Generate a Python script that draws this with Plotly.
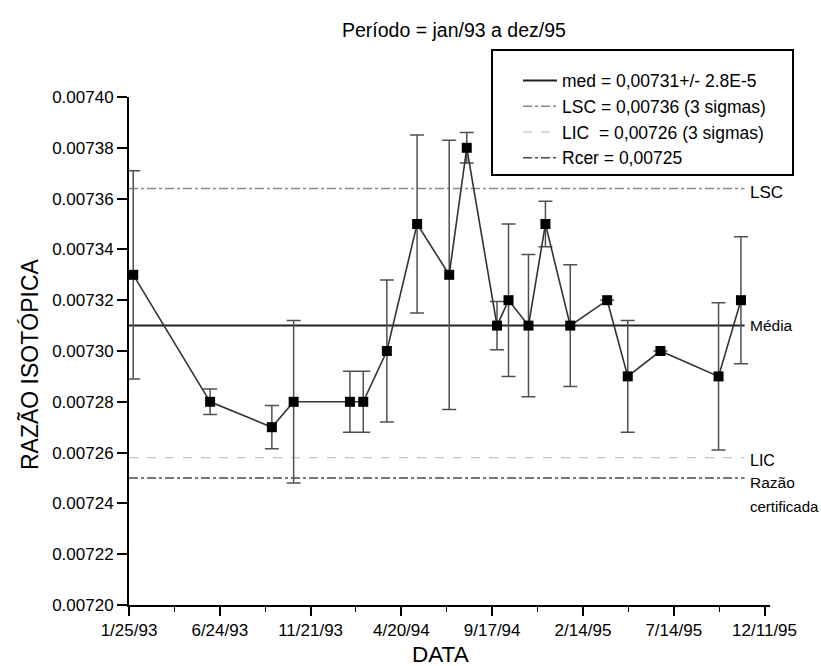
import plotly.graph_objects as go

# ---- data ----
dates = ["1993-02-01", "1993-06-08", "1993-09-18", "1993-10-24", "1994-01-25",
         "1994-02-16", "1994-03-27", "1994-05-16", "1994-07-08", "1994-08-06",
         "1994-09-25", "1994-10-14", "1994-11-16", "1994-12-14", "1995-01-24",
         "1995-03-26", "1995-04-29", "1995-06-22", "1995-09-26", "1995-11-02"]
ratios = [0.00733, 0.00728, 0.00727, 0.00728, 0.00728,
          0.00728, 0.00730, 0.00735, 0.00733, 0.00738,
          0.00731, 0.00732, 0.00731, 0.00735, 0.00731,
          0.00732, 0.00729, 0.00730, 0.00729, 0.00732]
errors = [0.000041, 0.000005, 0.0000085, 0.000032, 0.000012,
          0.000012, 0.000028, 0.000035, 0.000053, 0.000006,
          0.0000095, 0.00003, 0.000028, 0.000009, 0.000024,
          0.0, 0.000022, 0.0, 0.000029, 0.000025]

line_start = "1993-01-25"
line_end = "1995-11-08"
mean_val = 0.00731
lsc_val = 0.007364
lic_val = 0.007258
rcer_val = 0.00725

ref_names = ["med = 0,00731+/- 2.8E-5", "LSC = 0,00736 (3 sigmas)",
             "LIC  = 0,00726 (3 sigmas)", "Rcer = 0,00725"]

tick_vals = ["1993-01-25", "1993-06-24", "1993-11-21", "1994-04-20",
             "1994-09-17", "1995-02-14", "1995-07-14", "1995-12-11"]
tick_text = ["1/25/93", "6/24/93", "11/21/93", "4/20/94",
             "9/17/94", "2/14/95", "7/14/95", "12/11/95"]
minor_vals = ["1993-04-10", "1993-09-07", "1994-02-04", "1994-07-04",
              "1994-12-01", "1995-04-30", "1995-09-27"]
y_ticks = [0.00720, 0.00722, 0.00724, 0.00726, 0.00728, 0.00730,
           0.00732, 0.00734, 0.00736, 0.00738, 0.00740]

FONT = "Liberation Sans, Arial, sans-serif"

W, H = 821, 666
ML, MR, MT, MB = 129, 51, 97, 61
PW, PH = W - ML - MR, H - MT - MB


def px(xp):
    return (xp - ML) / PW


def py(yp):
    return (H - MB - yp) / PH


fig = go.Figure()

# reference lines (legend entries)
ref_vals = [mean_val, lsc_val, lic_val, rcer_val]
ref_styles = [dict(color="#222222", width=2, dash="solid"),
              dict(color="#8a8a8a", width=1.5, dash="dashdot"),
              dict(color="#c4c4c4", width=1.2, dash="dash"),
              dict(color="#4a4a4a", width=1.5, dash="dashdot")]
for name, val, st in zip(ref_names, ref_vals, ref_styles):
    fig.add_trace(go.Scatter(x=[line_start, line_end], y=[val, val], mode="lines",
                             name=name, line=st, hoverinfo="skip"))

# data series
fig.add_trace(go.Scatter(
    x=dates, y=ratios, mode="lines+markers", showlegend=False,
    line=dict(color="#333333", width=1.6),
    marker=dict(symbol="square", size=10, color="black"),
    error_y=dict(type="data", array=errors, visible=True,
                 color="#505050", thickness=1.5, width=7),
))

fig.update_layout(
    width=W, height=H,
    margin=dict(l=ML, r=MR, t=MT, b=MB),
    paper_bgcolor="white", plot_bgcolor="white",
    font=dict(family=FONT, color="black", size=17),
    showlegend=True,
    legend=dict(x=px(518), y=py(62.5), xanchor="left", yanchor="top",
                borderwidth=0, bgcolor="rgba(0,0,0,0)", itemwidth=34,
                font=dict(family=FONT, size=17.5), tracegroupgap=0),
    xaxis=dict(type="date", range=["1993-01-25", "1995-12-20"],
               tickmode="array", tickvals=tick_vals, ticktext=tick_text,
               ticks="outside", ticklen=9, tickwidth=1.5, tickcolor="black",
               showline=True, linecolor="black", linewidth=2,
               showgrid=False, zeroline=False,
               tickfont=dict(family=FONT, size=17),
               minor=dict(tickmode="array", tickvals=minor_vals, ticks="outside",
                          ticklen=5, tickwidth=1.2, tickcolor="black", showgrid=False)),
    yaxis=dict(range=[0.00720, 0.00740], tickmode="array", tickvals=y_ticks,
               tickformat=".5f",
               ticks="outside", ticklen=10, tickwidth=1.5, tickcolor="black",
               showline=True, linecolor="black", linewidth=2,
               showgrid=False, zeroline=False,
               tickfont=dict(family=FONT, size=17)),
)

# legend frame
fig.add_shape(type="rect", xref="paper", yref="paper",
              x0=px(492), x1=px(793), y0=py(175), y1=py(50),
              line=dict(color="black", width=2), fillcolor="rgba(0,0,0,0)")

ann = [
    dict(text="Período = jan/93 a dez/95", x=px(454), y=py(30), size=19.5),
    dict(text="RAZÃO ISOTÓPICA", x=px(30), y=py(364), size=23, angle=-90),
    dict(text="DATA", x=px(440), y=py(654), size=22.5),
]
for a in ann:
    fig.add_annotation(text=a["text"], x=a["x"], y=a["y"], xref="paper", yref="paper",
                       xanchor="center", yanchor="middle", showarrow=False,
                       textangle=a.get("angle", 0),
                       font=dict(family=FONT, size=a["size"], color="black"))

side = [("LSC", 192.5, 17), ("Média", 325, 15.5), ("LIC", 460, 16),
        ("Razão", 482, 15.5), ("certificada", 506, 15)]
for t, yy, s in side:
    fig.add_annotation(text=t, x=px(748), y=py(yy), xref="paper", yref="paper",
                       xanchor="left", yanchor="middle", showarrow=False,
                       font=dict(family=FONT, size=s, color="black"))

fig.write_html("out.html", config={"displayModeBar": False},
               post_script="document.body.style.margin='0px';")
